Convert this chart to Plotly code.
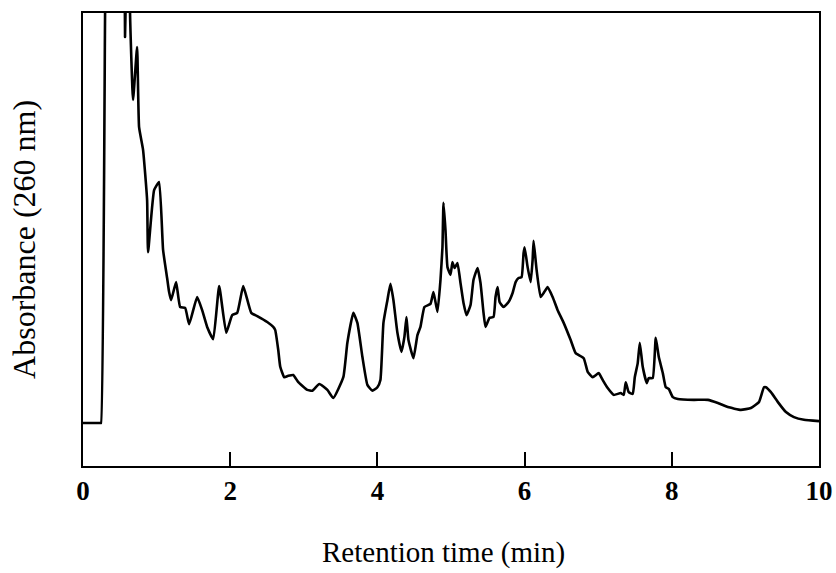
import plotly.graph_objects as go

# Retention time (min) and absorbance (arbitrary units, 0-100 full scale)
time_min = [
    0.0, 0.235, 0.245, 0.30, 0.32, 0.555, 0.571, 0.585, 0.63, 0.639, 0.680, 0.735, 0.762,
    0.816, 0.871, 0.884, 0.966, 1.034, 1.088, 1.143, 1.170, 1.197, 1.265, 1.320,
    1.388, 1.442, 1.551, 1.619, 1.687, 1.769, 1.850, 1.946, 2.027, 2.095, 2.177,
    2.286, 2.367, 2.503, 2.585, 2.612, 2.653, 2.680, 2.735, 2.789, 2.857, 2.925,
    3.048, 3.116, 3.211, 3.320, 3.401, 3.537, 3.592, 3.673, 3.728, 3.796, 3.864,
    3.932, 4.000, 4.041, 4.082, 4.136, 4.177, 4.218, 4.272, 4.327, 4.367, 4.395,
    4.422, 4.490, 4.544, 4.585, 4.639, 4.721, 4.762, 4.816, 4.857, 4.884, 4.898,
    4.925, 4.952, 4.993, 5.020, 5.048, 5.088, 5.129, 5.170, 5.211, 5.265, 5.306,
    5.361, 5.401, 5.442, 5.469, 5.524, 5.578, 5.605, 5.633, 5.660, 5.714, 5.782,
    5.837, 5.878, 5.918, 5.959, 5.986, 6.000, 6.041, 6.082, 6.109, 6.122, 6.163,
    6.218, 6.259, 6.313, 6.381, 6.449, 6.531, 6.626, 6.694, 6.803, 6.857, 6.925,
    7.007, 7.061, 7.129, 7.211, 7.306, 7.347, 7.374, 7.415, 7.469, 7.497, 7.537,
    7.565, 7.605, 7.660, 7.687, 7.741, 7.782, 7.823, 7.878, 7.918, 7.959, 8.014,
    8.082, 8.299, 8.490, 8.626, 8.762, 8.939, 9.075, 9.184, 9.252, 9.279, 9.347,
    9.442, 9.551, 9.660, 9.796, 10.0,
]
absorbance = [
    9.5, 9.5, 9.5, 100.0, 130.0, 130.0, 94.7, 130.0, 130.0, 100.0, 80.8, 92.5, 74.8,
    69.8, 58.7, 47.2, 60.9, 62.7, 47.7, 41.5, 38.4, 36.6, 40.6, 35.1,
    34.9, 31.3, 37.3, 34.4, 30.7, 28.0, 39.7, 29.4, 33.3, 33.8, 39.7,
    33.8, 33.1, 31.8, 30.7, 30.0, 25.6, 21.9, 19.6, 19.9, 20.1, 18.5,
    16.8, 16.6, 18.1, 16.8, 15.0, 19.6, 27.2, 33.8, 31.6, 24.1, 17.9,
    16.6, 17.4, 19.0, 31.6, 36.6, 40.2, 36.6, 29.4, 25.2, 28.5, 32.9,
    27.8, 23.8, 28.9, 30.7, 35.1, 35.8, 38.4, 34.0, 41.1, 48.3, 58.1,
    52.1, 43.9, 42.2, 45.0, 43.7, 44.8, 40.4, 36.0, 33.3, 35.5, 41.1,
    43.7, 40.4, 33.8, 30.7, 32.7, 32.9, 37.3, 39.5, 36.2, 35.1, 36.2,
    38.2, 40.6, 41.5, 41.7, 47.0, 48.3, 43.9, 40.6, 45.5, 49.7, 43.3,
    37.3, 38.2, 39.5, 37.3, 34.4, 31.6, 27.8, 24.9, 23.8, 20.8, 19.6,
    20.5, 19.0, 17.2, 15.7, 16.1, 15.7, 18.5, 16.3, 15.9, 19.6, 22.7,
    27.2, 21.9, 18.3, 19.4, 19.4, 28.3, 24.1, 20.5, 17.4, 17.0, 15.2,
    14.8, 14.6, 14.6, 13.9, 13.0, 12.4, 12.8, 14.1, 17.4, 17.4, 16.3,
    14.1, 11.9, 10.8, 10.2, 9.9,
]
tick_vals = [0, 2, 4, 6, 8, 10]
tick_text = ["0", "2", "4", "6", "8", "10"]

x_title = "Retention time (min)"
y_title = "Absorbance (260 nm)"

FONT = "Liberation Serif"

fig = go.Figure()
fig.add_trace(go.Scatter(
    x=time_min, y=absorbance, mode="lines",
    line=dict(color="black", width=2.6, shape="spline", smoothing=0.4),
    showlegend=False, hoverinfo="skip",
))

fig.update_layout(
    width=836, height=573, autosize=False,
    margin=dict(l=83, r=17, t=13, b=107, autoexpand=False),
    paper_bgcolor="white", plot_bgcolor="white",
    font=dict(family=FONT, color="black"),
    annotations=[
        dict(text=x_title, xref="paper", yref="paper", x=0.49, y=-0.19,
             xanchor="center", yanchor="middle", showarrow=False,
             font=dict(family=FONT, size=29, color="black")),
        dict(text=y_title, xref="paper", yref="paper", x=-0.081, y=0.50,
             xanchor="center", yanchor="middle", showarrow=False, textangle=-90,
             font=dict(family=FONT, size=32, color="black")),
    ],
)
fig.update_xaxes(
    range=[0, 10], tickvals=tick_vals, ticktext=tick_text, automargin=False,
    ticks="inside", ticklen=14, tickwidth=1.5, tickcolor="black",
    showline=True, linecolor="black", linewidth=2, mirror=True,
    showgrid=False, zeroline=False,
    tickfont=dict(family=FONT, size=27, color="black", weight="bold"),
)
fig.update_yaxes(
    range=[0, 100], showticklabels=False, ticks="", automargin=False,
    showline=True, linecolor="black", linewidth=2, mirror=True,
    showgrid=False, zeroline=False,
)

fig.write_html("out.html")
